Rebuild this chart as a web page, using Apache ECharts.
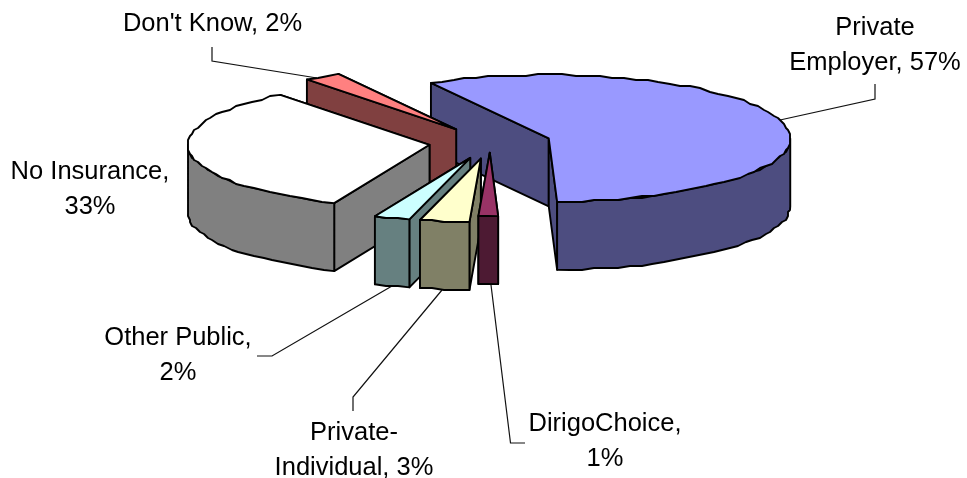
<!DOCTYPE html>
<html><head><meta charset="utf-8">
<style>html,body{margin:0;padding:0;background:#fff}#c{width:967px;height:478px}</style>
<script src="https://cdn.jsdelivr.net/npm/echarts@6/dist/echarts.min.js"></script>
</head><body><div id="c"></div>
<script>
// Data
const categories = ['Private Employer', 'DirigoChoice', 'Private-Individual', 'Other Public', 'No Insurance', "Don't Know"];
const shares = [57.49, 1.3, 3.3, 2.4, 32.9, 2.49];
const explodeFactor = [1, 0.62, 1, 1, 1, 1];
const topColors = ['#9999FF', '#993366', '#FFFFCC', '#CCFFFF', '#FFFFFF', '#FF8080'];
const wallColors = ['#4D4D80', '#4D1A33', '#808066', '#668080', '#808080', '#804040'];
const labelLines = [['Private', 'Employer, 57%'], ['DirigoChoice,', '1%'], ['Private-', 'Individual, 3%'], ['Other Public,', '2%'], ['No Insurance,', '33%'], ["Don't Know, 2%"]];
const drawOrder = [0, 5, 4, 3, 2, 1];

// Projection of the pie
const CX = 490, CY = 142.7, RX = 241.5, RY = 63.5, DEPTH = 68, EXPLODE = 61, START = -29.2, GRID = 2;
// Label anchors (centre x, first row centre y) and leader paths
const labelAt = [[875, 28], [605, 424], [354, 433], [178, 338], [90, 172], [212.5, 24]];
const leaders = [
  [[780, 120], [875, 99], [875, 84]],
  [[491, 285], [510.5, 443], [525, 443]],
  [[442, 290], [353, 397], [353, 411]],
  [[392, 286], [272, 356], [257, 356]],
  [],
  [[317, 78], [212, 61], [212, 47]]
];

const total = shares.reduce((a, b) => a + b, 0);
const slices = [];
let cursor = START;
shares.forEach((v, i) => {
  const sweep = v / total * 360;
  const mid = (cursor + sweep / 2) * Math.PI / 180;
  slices.push({
    a0: cursor, a1: cursor + sweep,
    ox: CX + EXPLODE * explodeFactor[i] * Math.sin(mid),
    oy: CY - EXPLODE * explodeFactor[i] * (RY / RX) * Math.cos(mid)
  });
  cursor += sweep;
});

function rim(s, deg) {
  const t = deg * Math.PI / 180;
  return [s.ox + RX * Math.sin(t), s.oy - RY * Math.cos(t)];
}
// The rim is a coarse polyline snapped to a small grid, which gives the stepped outline of the original
function arc(s, a0, a1) {
  const pts = [], n = Math.max(2, Math.ceil((a1 - a0) / 3));
  for (let k = 0; k <= n; k++) {
    const p = rim(s, a0 + (a1 - a0) * k / n);
    pts.push(k === 0 || k === n ? p : [Math.round(p[0] / GRID) * GRID, Math.round(p[1] / GRID) * GRID]);
  }
  return pts;
}
const down = p => [p[0], p[1] + DEPTH];
const line = { stroke: '#000', lineWidth: 1.9, lineJoin: 'round' };

function poly(points, fill) {
  return { type: 'polygon', shape: { points }, style: Object.assign({ fill }, line) };
}

function renderItem(params, api) {
  const i = api.value(0), s = slices[i], o = [s.ox, s.oy];
  const wall = wallColors[i], kids = [];
  const ends = [s.a0, s.a1].map(a => rim(s, a)).sort((p, q) => p[1] - q[1]);
  ends.forEach(p => kids.push(poly([o, p, down(p), down(o)], wall)));
  const f0 = Math.max(s.a0, 90), f1 = Math.min(s.a1, 270);
  if (f1 > f0) {
    const top = arc(s, f0, f1);
    kids.push(poly(top.concat(top.map(down).reverse()), wall));
  }
  kids.push(poly([o].concat(arc(s, s.a0, s.a1)), topColors[i]));
  return { type: 'group', children: kids };
}

const graphics = [];
leaders.forEach(path => {
  if (path.length) graphics.push({ type: 'polyline', shape: { points: path }, style: { stroke: '#111', lineWidth: 1.2, fill: null }, z: 1 });
});
labelLines.forEach((rows, i) => {
  rows.forEach((txt, r) => graphics.push({
    type: 'text', x: labelAt[i][0], y: labelAt[i][1] + r * 34.7, z: 3,
    style: { text: txt, fill: '#000', font: '25.5px "Liberation Sans", Arial, sans-serif', textAlign: 'center', textVerticalAlign: 'middle' }
  }));
});

const chart = echarts.init(document.getElementById('c'), null, { renderer: 'canvas' });
chart.setOption({
  animation: false,
  backgroundColor: '#fff',
  xAxis: { show: false, min: 0, max: 1 }, yAxis: { show: false, min: 0, max: 1 },
  grid: { left: 0, right: 0, top: 0, bottom: 0 },
  graphic: graphics,
  series: [{
    type: 'custom', coordinateSystem: 'none', z: 2, silent: true,
    renderItem,
    encode: {},
    data: drawOrder.map(i => [i, shares[i], categories[i]])
  }]
});
</script></body></html>
